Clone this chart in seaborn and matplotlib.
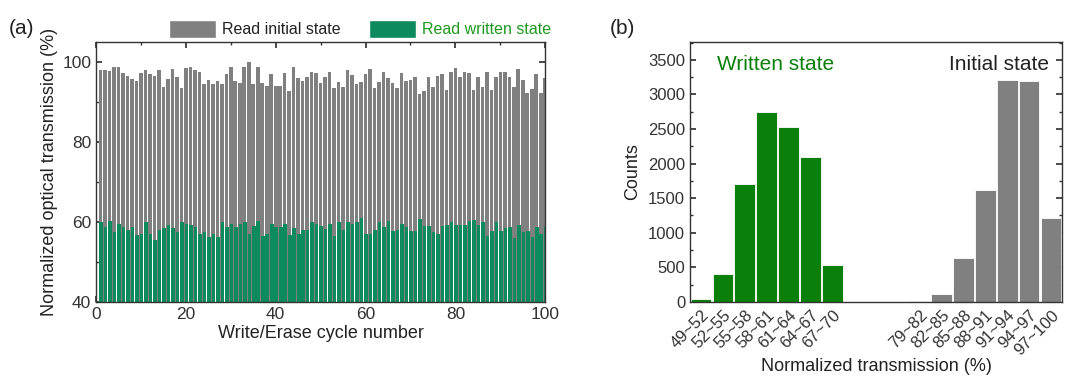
import matplotlib
matplotlib.use("Agg")
import pandas as pd
import matplotlib.pyplot as plt
import seaborn as sns
from matplotlib.patches import Patch
from matplotlib.ticker import MultipleLocator

# ---- panel (a): transmission read after each write/erase cycle ----
cycles = list(range(1, 101))

initial_state = [
    98.0, 97.9, 97.7, 98.8, 98.6, 97.1, 96.4, 95.7, 95.2, 97.1,
    97.9, 96.9, 96.4, 97.9, 93.7, 95.6, 98.2, 96.2, 93.5, 98.4,
    98.6, 97.9, 97.4, 94.4, 95.4, 94.4, 95.2, 94.4, 96.9, 98.8,
    95.2, 94.6, 98.8, 99.9, 94.4, 98.6, 94.8, 94.0, 96.9, 94.0,
    94.0, 97.1, 92.7, 98.6, 95.9, 95.2, 96.1, 97.4, 97.1, 94.6,
    96.3, 97.4, 93.5, 94.9, 93.6, 98.0, 96.7, 94.4, 94.9, 96.9,
    98.1, 93.4, 94.9, 97.4, 95.9, 94.6, 93.4, 97.3, 95.2, 95.5,
    96.1, 91.9, 92.7, 96.3, 93.6, 96.5, 96.9, 92.9, 97.4, 98.5,
    96.3, 97.4, 97.1, 92.9, 96.3, 93.6, 97.5, 92.9, 96.3, 97.4,
    97.5, 96.1, 93.6, 98.1, 95.5, 92.1, 93.2, 97.0, 92.3, 96.0,
]

written_state = [
    60.0, 58.8, 60.2, 57.5, 59.6, 58.8, 58.0, 58.8, 56.7, 57.0,
    60.0, 57.1, 55.6, 58.1, 58.6, 59.2, 58.5, 57.5, 59.9, 59.6,
    59.2, 58.8, 57.1, 57.6, 56.2, 57.1, 56.3, 60.0, 58.8, 59.6,
    58.8, 59.6, 60.0, 57.1, 59.0, 60.2, 56.5, 56.9, 59.4, 58.8,
    58.8, 59.5, 56.7, 58.5, 56.9, 58.1, 58.1, 59.9, 59.4, 59.0,
    58.2, 59.4, 56.5, 59.9, 58.0, 60.0, 59.4, 60.0, 61.0, 56.9,
    57.1, 58.0, 60.0, 58.8, 60.3, 57.7, 58.0, 59.5, 58.8, 57.7,
    57.8, 60.7, 59.0, 59.0, 57.5, 57.1, 59.0, 59.2, 60.0, 59.2,
    59.2, 59.2, 60.3, 60.6, 59.2, 60.0, 56.5, 57.8, 60.0, 57.8,
    58.5, 58.8, 55.9, 59.2, 57.5, 57.7, 56.3, 58.8, 56.9, 58.8,
]

# ---- panel (b): histogram of read transmission ----
bin_labels = ["49~52", "52~55", "55~58", "58~61", "61~64", "64~67", "67~70",
              "70~73", "73~76", "76~79",
              "79~82", "82~85", "85~88", "88~91", "91~94", "94~97", "97~100"]
bin_counts = [40, 400, 1700, 2750, 2530, 2100, 540,
              0, 0, 0,
              15, 110, 640, 1620, 3210, 3190, 1220]
bin_state = ["written"] * 7 + ["none"] * 3 + ["initial"] * 7

GREY = "#808080"
GREEN_A = "#0d8a5e"
GREEN_B = "#0a800a"
GREEN_TXT = "#1f9a1f"

sns.set_theme(style="ticks")
plt.rcParams["font.family"] = ["Liberation Sans", "DejaVu Sans"]
plt.rcParams.update({
    "xtick.direction": "in", "ytick.direction": "in",
    "axes.edgecolor": "#333333", "axes.linewidth": 1.0,
    "xtick.color": "#333333", "ytick.color": "#333333",
    "text.color": "#222222", "axes.labelcolor": "#222222",
})

fig = plt.figure(figsize=(10.67, 3.77), dpi=100)
ax_a = fig.add_axes([0.090, 0.199, 0.421, 0.690])
ax_b = fig.add_axes([0.6467, 0.199, 0.3486, 0.690])

# panel (a)
sns.barplot(x=cycles, y=initial_state, native_scale=True, orient="x",
            width=0.8, color=GREY, saturation=1, linewidth=0, ax=ax_a)
sns.barplot(x=[c + 0.12 for c in cycles], y=written_state, native_scale=True,
            orient="x", width=0.8, color=GREEN_A, saturation=1, linewidth=0,
            ax=ax_a)
ax_a.set_xlim(0, 100)
ax_a.set_ylim(40, 105)
ax_a.set_xticks(range(0, 101, 20))
ax_a.set_yticks([40, 60, 80, 100])
ax_a.xaxis.set_minor_locator(MultipleLocator(10))
ax_a.yaxis.set_minor_locator(MultipleLocator(10))
ax_a.tick_params(which="both", top=True, right=True, labelsize=12.5)
ax_a.tick_params(which="major", length=4)
ax_a.tick_params(which="minor", length=2)
ax_a.set_xlabel("Write/Erase cycle number", fontsize=13, labelpad=2)
ax_a.set_ylabel("Normalized optical transmission (%)", fontsize=13, labelpad=3)

handles = [Patch(facecolor=GREY, label="Read initial state"),
           Patch(facecolor=GREEN_A, label="Read written state")]
leg = ax_a.legend(handles=handles, loc="lower center", bbox_to_anchor=(0.588, 0.985),
                  ncol=2, frameon=False, fontsize=11.5, handlelength=2.9,
                  handleheight=1.3, columnspacing=1.8, handletextpad=0.4,
                  borderaxespad=0.1)
leg.get_texts()[1].set_color(GREEN_TXT)

# panel (b)
df_b = pd.DataFrame({"bin": bin_labels, "count": bin_counts, "state": bin_state})
sns.barplot(data=df_b, x="bin", y="count", hue="state", order=bin_labels,
            palette={"written": GREEN_B, "initial": GREY, "none": GREY},
            dodge=False, width=0.94, saturation=1, edgecolor="white",
            linewidth=0.6, legend=False, ax=ax_b)
ax_b.set_xlim(-0.5, 16.5)
ax_b.set_ylim(0, 3760)
tick_pos = [i for i, s in enumerate(bin_state) if s != "none"]
ax_b.set_xticks(tick_pos)
ax_b.set_xticklabels([bin_labels[i] for i in tick_pos], rotation=45,
                     ha="right", rotation_mode="anchor", fontsize=12)
ax_b.set_yticks(range(0, 3501, 500))
ax_b.yaxis.set_minor_locator(MultipleLocator(250))
ax_b.tick_params(axis="y", which="both", right=True, labelsize=12)
ax_b.tick_params(axis="x", length=0, pad=4)
ax_b.tick_params(axis="y", which="major", length=4)
ax_b.tick_params(axis="y", which="minor", length=2)
ax_b.set_xlabel("Normalized transmission (%)", fontsize=13, labelpad=0)
ax_b.set_ylabel("Counts", fontsize=13, labelpad=5)
ax_b.text(0.75, 3430, "Written state", color=GREEN_B, fontsize=15,
          ha="left", va="center")
ax_b.text(15.9, 3430, "Initial state", color="#222222", fontsize=15,
          ha="right", va="center")

fig.text(0.008, 0.925, "(a)", fontsize=15, ha="left", va="center")
fig.text(0.571, 0.925, "(b)", fontsize=15, ha="left", va="center")

fig.savefig("out.png", dpi=100)
plt.close(fig)
